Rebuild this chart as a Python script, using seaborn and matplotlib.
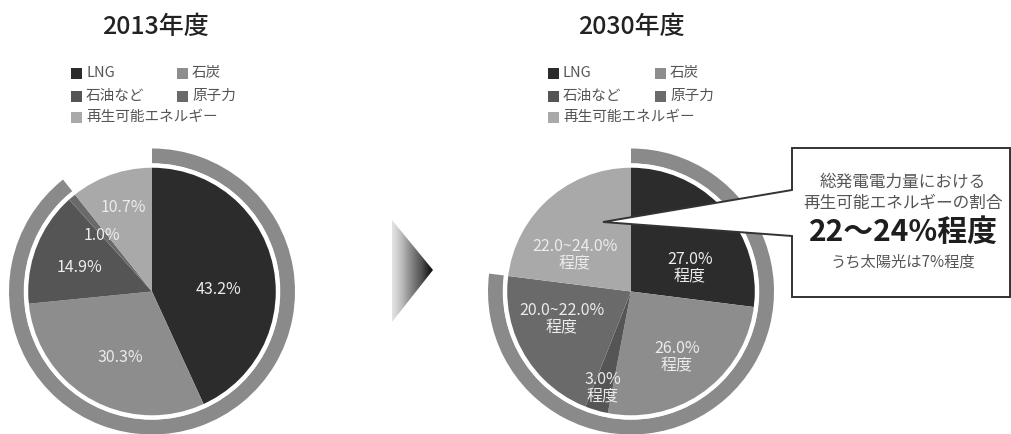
import numpy as np
import matplotlib
matplotlib.use("Agg")
import matplotlib.pyplot as plt
from matplotlib.patches import Circle, Polygon, Rectangle
import seaborn as sns

sns.set_theme(style="white")
plt.rcParams["font.family"] = ["Noto Sans CJK JP", "DejaVu Sans"]

# ---- data -------------------------------------------------------------
sources = ["LNG", "石炭", "石油など", "原子力", "再生可能エネルギー"]
share_2013 = [43.2, 30.3, 14.9, 1.0, 10.7]
share_2030 = [27.0, 26.0, 3.0, 21.0, 23.0]          # ranges plotted at their midpoints
labels_2013 = ["43.2%", "30.3%", "14.9%", "1.0%", "10.7%"]
labels_2030 = ["27.0%\n程度", "26.0%\n程度", "3.0%\n程度",
               "20.0~22.0%\n程度", "22.0~24.0%\n程度"]
titles = ["2013年度", "2030年度"]
callout_lines = ["総発電電力量における", "再生可能エネルギーの割合",
                 "22〜24%程度", "うち太陽光は7%程度"]

# ---- style ------------------------------------------------------------
colors = ["#2c2c2c", "#8d8d8d", "#555555", "#6a6a6a", "#a9a9a9"]
ring_color = "#8a8a8a"
label_color = "#ececec"

W, H = 1011, 434
fig = plt.figure(figsize=(W / 100, H / 100), dpi=100)
ax = fig.add_axes([0, 0, 1, 1])


def Y(y):
    """Convert a top-down pixel row to the axes' y coordinate."""
    return H - y


def draw_pie(cx, cy, values, labels, label_pos, legend_x, legend_col2, title, title_x):
    center = (cx, Y(cy))
    R = 125
    ax.pie(values, colors=colors, startangle=90, counterclock=False,
           radius=R, center=center, frame=True,
           wedgeprops=dict(linewidth=0, antialiased=True))
    # outer ring spanning everything except renewables
    non_renew = sum(values[:4])
    ax.pie([non_renew, values[4]], colors=[ring_color, "none"], startangle=90,
           counterclock=False, radius=R + 18, center=center, frame=True,
           wedgeprops=dict(width=15, linewidth=0))
    ax.add_patch(Circle(center, R + 1.0, fill=False, ec="white", lw=3.2, zorder=3))

    for lab, (lx, ly) in zip(labels, label_pos):
        ax.text(lx, Y(ly), lab, ha="center", va="center", color=label_color,
                fontsize=11.5, linespacing=1.05, zorder=4)

    ax.text(title_x, Y(27), title, ha="center", va="center", fontsize=18,
            color="#222222", fontweight="medium")

    # legend laid out as two columns with the long item on its own row
    slots = [(legend_x, 73), (legend_col2, 73), (legend_x, 96), (legend_col2, 96), (legend_x, 117)]
    for name, col, (sx, sy) in zip(sources, colors, slots):
        ax.add_patch(Rectangle((sx, Y(sy) - 5.5), 11, 11, color=col, lw=0))
        ax.text(sx + 15, Y(sy), name, ha="left", va="center", fontsize=10.5,
                color="#555555")


draw_pie(152, 291.5, share_2013, labels_2013,
         [(218, 290), (120, 358), (80, 267), (102, 235), (123, 208)],
         71, 177, titles[0], 155)
draw_pie(631, 291.5, share_2030, labels_2030,
         [(690, 268), (677, 357), (603, 388), (562, 319), (575, 255)],
         548, 655, titles[1], 631)

# gradient arrow between the two years
tri = Polygon([(392, Y(220)), (392, Y(322)), (433, Y(270))], closed=True,
              fc="none", ec="none")
ax.add_patch(tri)
grad = np.linspace(0, 1, 256)[None, :]
im = ax.imshow(grad, extent=[392, 433, Y(322), Y(220)], cmap="Greys",
               vmin=-0.25, vmax=1.05, aspect="auto", interpolation="bilinear", zorder=2)
im.set_clip_path(tri)

# callout box with pointer into the renewables slice
box = Polygon([(792, Y(148)), (1010, Y(148)), (1010, Y(297)), (792, Y(297)),
               (792, Y(236)), (603, Y(222)), (792, Y(190))],
              closed=True, fc="white", ec="#333333", lw=1.4, zorder=5)
ax.add_patch(box)
ax.text(903, Y(182), callout_lines[0], ha="center", va="center", fontsize=12,
        color="#555555", zorder=6)
ax.text(903, Y(203), callout_lines[1], ha="center", va="center", fontsize=12,
        color="#555555", zorder=6)
ax.text(903, Y(232), callout_lines[2], ha="center", va="center", fontsize=21.5,
        color="#1e1e1e", fontweight="bold", zorder=6)
ax.text(903, Y(262), callout_lines[3], ha="center", va="center", fontsize=11,
        color="#555555", zorder=6)

ax.set_xlim(0, W)
ax.set_ylim(0, H)
ax.set_aspect("auto")
ax.axis("off")
fig.savefig("out.png", dpi=100, facecolor="white")
